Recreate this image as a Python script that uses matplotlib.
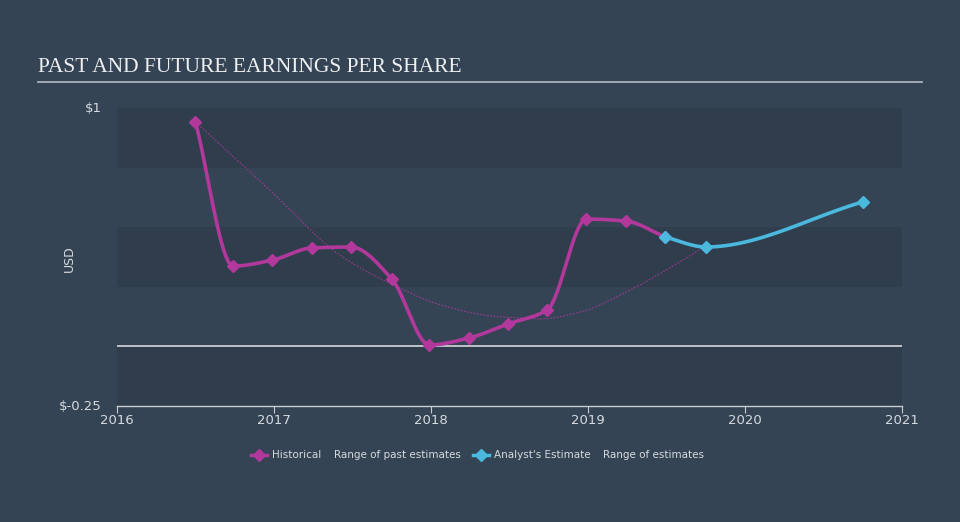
import numpy as np
import matplotlib.pyplot as plt
from matplotlib.lines import Line2D

# Values
hist_x = [2016.50, 2016.74, 2016.99, 2017.24, 2017.49, 2017.75, 2017.99,
          2018.24, 2018.49, 2018.74, 2018.99, 2019.24, 2019.49]
hist_y = [0.941, 0.337, 0.362, 0.413, 0.417, 0.283, 0.006,
          0.035, 0.094, 0.153, 0.534, 0.526, 0.459]
est_x = [2019.49, 2019.75, 2020.75]
est_y = [0.459, 0.417, 0.606]
trend_x = [2016.50, 2016.96, 2017.42, 2017.76, 2018.06, 2018.38, 2018.57,
           2018.69, 2018.95, 2019.27, 2019.52, 2019.73]
trend_y = [0.941, 0.664, 0.383, 0.258, 0.174, 0.128, 0.119,
           0.115, 0.144, 0.237, 0.329, 0.413]
year_ticks = [2016, 2017, 2018, 2019, 2020, 2021]
y_ticks = [-0.25, 1]
y_labels = ["$-0.25", "$1"]

BG = "#344454"
BAND = "#2f3d4c"
TXT = "#d6dadf"
MAG = "#b2389c"
CYAN = "#4bb8de"


def monotone(x, y, n=40):
	# Fritsch-Carlson monotone cubic, only to draw a smooth line through the points
	x = np.asarray(x, float); y = np.asarray(y, float)
	h = np.diff(x); d = np.diff(y) / h
	m = np.zeros_like(y)
	m[0], m[-1] = d[0], d[-1]
	for i in range(1, len(x) - 1):
		if d[i - 1] * d[i] <= 0: m[i] = 0
		else:
			w1 = 2 * h[i] + h[i - 1]; w2 = h[i] + 2 * h[i - 1]
			m[i] = (w1 + w2) / (w1 / d[i - 1] + w2 / d[i])
	xs, ys = [], []
	for i in range(len(x) - 1):
		t = np.linspace(0, 1, n)
		h00 = 2 * t**3 - 3 * t**2 + 1; h10 = t**3 - 2 * t**2 + t
		h01 = -2 * t**3 + 3 * t**2; h11 = t**3 - t**2
		xs.append(x[i] + t * h[i])
		ys.append(h00 * y[i] + h10 * h[i] * m[i] + h01 * y[i + 1] + h11 * h[i] * m[i + 1])
	return np.concatenate(xs), np.concatenate(ys)


fig = plt.figure(figsize=(9.6, 5.22), dpi=100, facecolor=BG)
ax = fig.add_axes([117 / 960, 116 / 522, 785 / 960, 298 / 522])
ax.set_facecolor(BG)
ax.set_xlim(2016, 2021)
ax.set_ylim(-0.25, 1)

# alternating horizontal bands
for lo, hi in [(0.75, 1), (0.25, 0.5), (-0.25, 0)]:
	ax.axhspan(lo, hi, color=BAND, lw=0, zorder=0)
ax.axhline(0, color="#c9cdd2", lw=1.3, zorder=1)

tx, ty = monotone(trend_x, trend_y)
ax.plot(tx, ty, color=MAG, lw=0.8, ls=(0, (1.5, 1.5)), alpha=0.85, zorder=2)

sx, sy = monotone(hist_x, hist_y)
ax.plot(sx, sy, color=MAG, lw=2.6, solid_capstyle="round", zorder=3)
ax.plot(hist_x, hist_y, ls="none", marker="D", ms=6, color=MAG, zorder=4)

ex, ey = monotone(est_x, est_y)
ax.plot(ex, ey, color=CYAN, lw=2.6, solid_capstyle="round", zorder=3)
ax.plot(est_x, est_y, ls="none", marker="D", ms=6, color=CYAN, zorder=4)

for s in ["top", "right", "left"]:
	ax.spines[s].set_visible(False)
ax.spines["bottom"].set_color("#c9cdd2")
ax.spines["bottom"].set_linewidth(1)
ax.set_xticks(year_ticks)
ax.set_xticklabels([str(y) for y in year_ticks])
ax.tick_params(axis="x", colors="#c9cdd2", labelcolor=TXT, labelsize=9.5, length=5, pad=1)
ax.set_yticks(y_ticks)
ax.set_yticklabels(y_labels)
ax.tick_params(axis="y", length=0, labelcolor=TXT, labelsize=9.5, pad=11)
for lab in ax.get_yticklabels():
	lab.set_verticalalignment("center")
fig.text(69 / 960, 1 - 259 / 522, "USD", color=TXT, fontsize=9, rotation=90, va="center", ha="center")

# title and its rule
fig.text(38 / 960, 1 - 67 / 522, "PAST AND FUTURE EARNINGS PER SHARE", family="Liberation Serif",
	fontsize=15.5, color="#eef0f2", va="center", ha="left")
fig.add_artist(Line2D([38 / 960, 922 / 960], [1 - 82 / 522] * 2, color="#aab1b9", lw=1.3))

# legend drawn by hand
ly = 1 - 455 / 522
for x0, col in [(259, MAG), (481, CYAN)]:
	fig.add_artist(Line2D([(x0 - 8) / 960, (x0 + 8) / 960], [ly, ly], color=col, lw=2.5))
	fig.add_artist(Line2D([x0 / 960], [ly], marker="D", ms=6, color=col))
for x0, s in [(272, "Historical"), (334, "Range of past estimates"),
		(494, "Analyst's Estimate"), (603, "Range of estimates")]:
	fig.text(x0 / 960, ly, s, color=TXT, fontsize=7.5, va="center", ha="left")

fig.savefig("out.png", dpi=100, facecolor=BG)
